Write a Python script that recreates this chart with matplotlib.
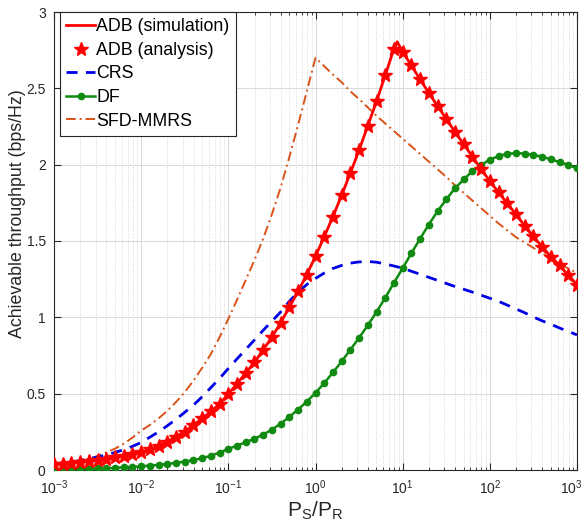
import numpy as np
import matplotlib
matplotlib.use('Agg')
import matplotlib.pyplot as plt
from matplotlib.transforms import ScaledTranslation
from matplotlib.ticker import FixedLocator, FormatStrFormatter, NullFormatter, LogFormatterMathtext

plt.rcParams['font.family'] = ['Liberation Sans', 'DejaVu Sans']
plt.rcParams['mathtext.fontset'] = 'custom'
plt.rcParams['mathtext.rm'] = 'Liberation Sans'
plt.rcParams['mathtext.it'] = 'Liberation Sans:italic'

# P_S/P_R sample points, 10 per decade from 1e-3 to 1e3
ps_pr = np.logspace(-3, 3, 61)

adb_analysis = [
    0.038, 0.042, 0.047, 0.053, 0.059, 0.066, 0.074, 0.083, 0.093, 0.103,
    0.115, 0.136, 0.158, 0.186, 0.218, 0.252, 0.294, 0.338, 0.384, 0.433,
    0.498, 0.565, 0.636, 0.705, 0.788, 0.870, 0.965, 1.066, 1.170, 1.280,
    1.400, 1.528, 1.660, 1.800, 1.945, 2.095, 2.255, 2.415, 2.585, 2.760,
    2.738, 2.650, 2.558, 2.470, 2.384, 2.300, 2.215, 2.134, 2.053, 1.970,
    1.893, 1.818, 1.747, 1.674, 1.600, 1.530, 1.462, 1.398, 1.340, 1.276,
    1.215]
# peak of the simulation curve between two analysis points
adb_peak = (8.65, 2.805)

crs = [
    0.040, 0.046, 0.053, 0.062, 0.073, 0.085, 0.098, 0.115, 0.133, 0.155,
    0.180, 0.215, 0.250, 0.290, 0.332, 0.378, 0.425, 0.480, 0.540, 0.600,
    0.665, 0.728, 0.790, 0.852, 0.915, 0.975, 1.035, 1.105, 1.165, 1.215,
    1.255, 1.290, 1.320, 1.340, 1.355, 1.363, 1.366, 1.361, 1.350, 1.336,
    1.322, 1.302, 1.282, 1.262, 1.242, 1.222, 1.202, 1.184, 1.165, 1.145,
    1.125, 1.105, 1.080, 1.055, 1.030, 1.002, 0.977, 0.955, 0.930, 0.908,
    0.885]

df = [
    0.004, 0.005, 0.006, 0.007, 0.008, 0.010, 0.012, 0.014, 0.017, 0.020,
    0.024, 0.029, 0.034, 0.040, 0.047, 0.055, 0.065, 0.077, 0.094, 0.114,
    0.138, 0.160, 0.182, 0.205, 0.232, 0.265, 0.303, 0.348, 0.396, 0.448,
    0.505, 0.569, 0.639, 0.711, 0.788, 0.866, 0.948, 1.035, 1.128, 1.226,
    1.322, 1.420, 1.515, 1.608, 1.695, 1.772, 1.845, 1.903, 1.958, 1.998,
    2.033, 2.056, 2.072, 2.075, 2.073, 2.064, 2.052, 2.035, 2.017, 1.998,
    1.976]

sfd_mmrs = [
    0.035, 0.040, 0.048, 0.058, 0.073, 0.092, 0.115, 0.140, 0.172, 0.212,
    0.258, 0.295, 0.338, 0.388, 0.445, 0.510, 0.585, 0.670, 0.760, 0.870,
    0.990, 1.115, 1.245, 1.375, 1.515, 1.675, 1.850, 2.050, 2.260, 2.480,
    2.700, 2.645, 2.590, 2.540, 2.480, 2.430, 2.375, 2.320, 2.270, 2.220,
    2.170, 2.120, 2.070, 2.020, 1.970, 1.920, 1.865, 1.815, 1.765, 1.715,
    1.665, 1.615, 1.570, 1.525, 1.490, 1.455, 1.420, 1.385, 1.350, 1.320,
    1.290]

labels = ['ADB (simulation)', 'ADB (analysis)', 'CRS', 'DF', 'SFD-MMRS']
x_ticks = [1e-3, 1e-2, 1e-1, 1e0, 1e1, 1e2, 1e3]
y_ticks = [0, 0.5, 1, 1.5, 2, 2.5, 3]

# simulation curve = analysis points plus the peak
sim_x = np.append(ps_pr, adb_peak[0])
sim_y = np.append(adb_analysis, adb_peak[1])
order = np.argsort(sim_x)
sim_x, sim_y = sim_x[order], sim_y[order]

fig = plt.figure(figsize=(5.87, 5.22), dpi=100)
ax = fig.add_axes([54 / 587, 1 - 470 / 522, 523 / 587, 458 / 522])

ax.plot(sim_x, sim_y, color='#ff0000', lw=2, label=labels[0], zorder=5)
ax.plot(ps_pr, adb_analysis, ls='none', marker='*', ms=10, color='#ff0000',
        label=labels[1], zorder=6)
ax.plot(ps_pr, crs, color='#0000e6', ls=(0, (4, 3)), lw=2, label=labels[2], zorder=4)
ax.plot(ps_pr, df, color='#108a10', lw=1.8, marker='o', ms=4.5, label=labels[3], zorder=4)
ax.plot(ps_pr, sfd_mmrs, color='#d95319', ls=(0, (5, 2, 1, 2)), lw=1.4,
        label=labels[4], zorder=3)

ax.set_xscale('log')
ax.set_xlim(1e-3, 1e3)
ax.set_ylim(0, 3)
ax.xaxis.set_major_locator(FixedLocator(x_ticks))
ax.xaxis.set_major_formatter(LogFormatterMathtext())
minor = [m * d for d in x_ticks[:-1] for m in range(2, 10)]
ax.xaxis.set_minor_locator(FixedLocator(minor))
ax.xaxis.set_minor_formatter(NullFormatter())
ax.set_yticks(y_ticks)
ax.yaxis.set_major_formatter(FormatStrFormatter('%g'))

ax.grid(True, which='major', color='#d9d9d9', lw=0.7, ls='-')
ax.grid(True, which='minor', axis='x', color='#cfcfcf', lw=0.6, ls=':')
ax.set_axisbelow(True)

ax.tick_params(which='both', direction='in', top=True, right=True,
               colors='#262626', labelsize=10)
ax.tick_params(which='major', length=5, pad=6)
ax.tick_params(which='minor', length=2.5)
for s in ax.spines.values():
    s.set_color('#262626')
    s.set_linewidth(0.8)
# nudge the last x label a little left so it stays inside the figure
last = ax.xaxis.get_major_ticks()[-1].label1
last.set_transform(last.get_transform() + ScaledTranslation(-6 / 100, 0, fig.dpi_scale_trans))

ax.set_xlabel(r'$\mathrm{P_S/P_R}$', fontsize=15, color='#262626', labelpad=2)
ax.set_ylabel('Achievable throughput (bps/Hz)', fontsize=12.8, color='#262626')
ax.yaxis.set_label_coords(-0.054, 0.56)

leg = ax.legend(loc='upper left', bbox_to_anchor=(0.012, 1.0), borderaxespad=0,
                fontsize=12.8, handlelength=1.6, handletextpad=0.08, labelspacing=0.37,
                borderpad=0.35, fancybox=False, framealpha=1, edgecolor='#262626')
leg.get_frame().set_linewidth(0.8)

fig.savefig('out.png', dpi=100)
